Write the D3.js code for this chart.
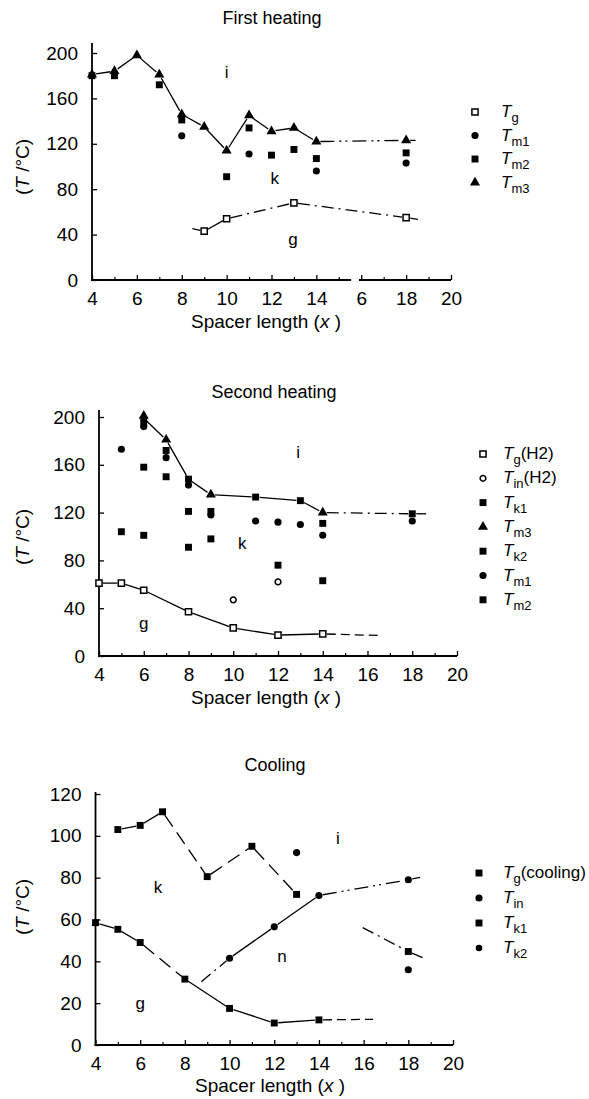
<!DOCTYPE html>
<html><head><meta charset="utf-8">
<script src="https://cdn.jsdelivr.net/npm/d3@7"></script>
<style>
body{margin:0;background:#fff;}
svg{display:block;font-family:"Liberation Sans",Arial,Helvetica,sans-serif;}
</style></head><body>
<svg id="c" width="589" height="1099"></svg>
<script>
// ---------- Panel 1: First heating ----------
const p1_title = "First heating";
const p1_x_ticks = [4,6,8,10,12,14,16,18,20];
const p1_x_tick_labels = ["4","6","8","10","12","14","6","18","20"];
const p1_y_ticks = [0,40,80,120,160,200];
const p1_Tg_x  = [9,10,13,18];
const p1_Tg_y  = [43,54,68,55];
const p1_Tm1_x = [8,11,14,18];
const p1_Tm1_y = [127,111,96,103];
const p1_Tm2_x = [4,5,7,8,10,11,12,13,14,18];
const p1_Tm2_y = [180,180,172,141,91,134,110,115,107,112];
const p1_Tm3_x = [4,5,6,7,8,9,10,11,12,13,14,18];
const p1_Tm3_y = [181,184,198,181,146,135,114,145,131,134,122,123];
// guide lines
const p1_Tm3_line_x = [4,5,6,7,8,9,10,11,12,13,14];
const p1_Tm3_line_y = [181,184,198,181,146,135,114,145,131,134,122];
const p1_Tm3_ext_x = [14,18,18.6];
const p1_Tm3_ext_y = [122,123,123];
const p1_Tg_line_x = [8.3,9,10,13,18,18.7];
const p1_Tg_line_y = [46,43,54,68,55,53];
const p1_legend_subs = ["g","m1","m2","m3"];
const p1_legend_suffix = ["","","",""];
const p1_regions = ["i","k","g"];
const p1_region_x = [10,12.15,12.96];
const p1_region_y = [183,90,36];

// ---------- Panel 2: Second heating ----------
const p2_title = "Second heating";
const p2_x_ticks = [4,6,8,10,12,14,16,18,20];
const p2_x_tick_labels = ["4","6","8","10","12","14","16","18","20"];
const p2_y_ticks = [0,40,80,120,160,200];
const p2_Tg_x  = [4,5,6,8,10,12,14];
const p2_Tg_y  = [61,61,55,37,23.5,17.5,18.5];
const p2_Tin_x = [10,12];
const p2_Tin_y = [47,62];
const p2_Tk1_x = [5,6,8,9,12,14];
const p2_Tk1_y = [104,101,91,98,76,63];
const p2_Tm3_x = [6,7,9,14];
const p2_Tm3_y = [201,181,135,120];
const p2_Tk2_x = [6,7,8,9,14];
const p2_Tk2_y = [158,150,121,121,111];
const p2_Tm1_x = [5,6,7,8,9,11,12,13,14,18];
const p2_Tm1_y = [173,192,166,143,118,113,112,110,101,113];
const p2_Tm2_x = [6,7,8,11,13,18];
const p2_Tm2_y = [196,172,148,133,130,119];
const p2_top_line_x = [6,7,8,9,11,13,14];
const p2_top_line_y = [199,181,148,135,133,130,120];
const p2_top_ext_x = [14,18,18.8];
const p2_top_ext_y = [120,119,119];
const p2_Tg_ext_x = [14,16.8];
const p2_Tg_ext_y = [18.5,17];
const p2_legend_subs = ["g","in","k1","m3","k2","m1","m2"];
const p2_legend_suffix = ["(H2)","(H2)","","","","",""];
const p2_regions = ["i","k","g"];
const p2_region_x = [12.9,10.4,6];
const p2_region_y = [170.7,94.6,27.6];

// ---------- Panel 3: Cooling ----------
const p3_title = "Cooling";
const p3_x_ticks = [4,6,8,10,12,14,16,18,20];
const p3_x_tick_labels = ["4","6","8","10","12","14","16","18","20"];
const p3_y_ticks = [0,20,40,60,80,100,120];
const p3_Tg_x  = [4,5,6,8,10,12,14];
const p3_Tg_y  = [58.5,55.3,49,31.5,17.5,10.5,12];
const p3_Tin_x = [10,12,14,18];
const p3_Tin_y = [41.5,56.5,71.5,79];
const p3_Tk1_x = [5,6,7,9,11,13,18];
const p3_Tk1_y = [103,105,111.5,80.5,95,72,44.7];
const p3_Tk2_x = [13,18];
const p3_Tk2_y = [92,36];
const p3_Tk1_tail_x = [15.8,18,18.8];
const p3_Tk1_tail_y = [57,44.7,41];
const p3_Tin_line_x = [8.6,10,12,14];
const p3_Tin_line_y = [29,41.5,56.5,71.5];
const p3_Tin_ext_x = [14,18,18.7];
const p3_Tin_ext_y = [71.5,79,80.5];
const p3_Tg_ext_x = [14,16.6];
const p3_Tg_ext_y = [12,12.3];
const p3_legend_subs = ["g","in","k1","k2"];
const p3_legend_suffix = ["(cooling)","","",""];
const p3_regions = ["i","k","n","g"];
const p3_region_x = [14.85,6.8,12.35,6];
const p3_region_y = [99,75.5,42.5,20];

// ---------- drawing ----------
const svg = d3.select("#c");
const FONT_TICK = 19, FONT_TITLE = 18, FONT_AX = 19, FONT_LEG = 17;

const DASH = {solid:null, dash:"9,5", longdash:"14,7", dashdot:"12,5,2,5", dashdotdot:"14,5,2,4,2,5"};

function marker(g, type, px, py) {
  const sym = {
    sqOpen: [d3.symbolSquare, 38, "#fff", 1.5],
    sqFill: [d3.symbolSquare, 48, "#000", 0],
    circFill: [d3.symbolCircle, 40, "#000", 0],
    circSmall: [d3.symbolCircle, 34, "#000", 0],
    circOpen: [d3.symbolCircle, 26, "#fff", 1.5],
    tri: [d3.symbolTriangle, 44, "#000", 0]
  }[type];
  g.append("path")
    .attr("d", d3.symbol().type(sym[0]).size(sym[1])())
    .attr("transform", `translate(${px},${py})`)
    .attr("fill", sym[2])
    .attr("stroke", sym[3] ? "#000" : "none")
    .attr("stroke-width", sym[3]);
}

function points(g, x, y, xs, ys, type) {
  xs.forEach((d, i) => marker(g, type, x(d), y(ys[i])));
}

function segs(g, x, y, xs, ys, styles, gap) {
  for (let i = 0; i < xs.length - 1; i++) {
    let x1 = x(xs[i]), y1 = y(ys[i]), x2 = x(xs[i+1]), y2 = y(ys[i+1]);
    const dx = x2 - x1, dy = y2 - y1, L = Math.hypot(dx, dy);
    const ux = dx / L, uy = dy / L;
    const st = Array.isArray(styles) ? styles[i] : styles;
    g.append("line")
      .attr("x1", x1 + ux*gap).attr("y1", y1 + uy*gap)
      .attr("x2", x2 - ux*gap).attr("y2", y2 - uy*gap)
      .attr("stroke", "#000").attr("stroke-width", 1.3)
      .attr("stroke-dasharray", DASH[st]);
  }
}

function frame(cfg) {
  const x = d3.scaleLinear().domain([4,20]).range([cfg.x0, cfg.x1]);
  const y = d3.scaleLinear().domain([0, cfg.ymax]).range([cfg.yb, cfg.yt]);
  const g = svg.append("g");
  g.append("text").attr("x", cfg.titleX).attr("y", cfg.titleY)
    .attr("text-anchor","middle").attr("font-size", FONT_TITLE).text(cfg.title);
  const xa = g.append("g").attr("transform", `translate(0,${cfg.yb})`)
    .call(d3.axisBottom(x).tickValues(cfg.xticks)
      .tickFormat((d,i) => cfg.xlabels[i]).tickSize(-5).tickPadding(12));
  xa.select(".domain").remove();
  xa.selectAll("text").attr("font-size", FONT_TICK).attr("font-family", null);
  xa.selectAll("line").attr("stroke-width", 1.3);
  const xm = g.append("g").attr("transform", `translate(0,${cfg.yb})`)
    .call(d3.axisBottom(x).tickValues(d3.range(5,20,2)).tickFormat("").tickSize(-3));
  xm.select(".domain").remove();
  xm.selectAll("line").attr("stroke-width", 1.2);
  (cfg.breaks || [[4,20]]).forEach(b => {
    g.append("line").attr("x1", x(b[0]) - (b[0]===4?1:0)).attr("x2", x(b[1]))
      .attr("y1", cfg.yb).attr("y2", cfg.yb).attr("stroke","#000").attr("stroke-width",1.8);
  });
  if (cfg.breaks) {
    g.selectAll(".tick").filter(d => d > cfg.breaks[0][1] && d < cfg.breaks[1][0]).remove();
  }
  const ya = g.append("g").attr("transform", `translate(${cfg.x0},0)`)
    .call(d3.axisLeft(y).tickValues(cfg.yticks).tickSize(-5).tickPadding(14));
  ya.select(".domain").remove();
  ya.selectAll("text").attr("font-size", FONT_TICK).attr("font-family", null);
  ya.selectAll("line").attr("stroke-width", 1.3);
  g.append("line").attr("x1", cfg.x0).attr("x2", cfg.x0)
    .attr("y1", cfg.yb + 0.9).attr("y2", cfg.yAxTop).attr("stroke","#000").attr("stroke-width",1.8);
  const xt = g.append("text").attr("x", cfg.xTitleX).attr("y", cfg.yb + cfg.xTitleDy)
    .attr("text-anchor","middle").attr("font-size", FONT_AX);
  xt.append("tspan").text("Spacer length (");
  xt.append("tspan").attr("font-style","italic").text("x");
  xt.append("tspan").text(" )");
  const yt = g.append("text")
    .attr("transform", `translate(${cfg.yTitleX},${cfg.yTitleY}) rotate(-90)`)
    .attr("text-anchor","middle").attr("font-size", FONT_AX);
  yt.append("tspan").text("(");
  yt.append("tspan").attr("font-style","italic").text("T");
  yt.append("tspan").text(" /°C)");
  cfg.regions.forEach((t,i) => {
    g.append("text").attr("x", x(cfg.regX[i])).attr("y", y(cfg.regY[i]))
      .attr("text-anchor","middle").attr("dy","0.35em").attr("font-size", 17).text(t);
  });
  cfg.legSubs.forEach((s,i) => {
    const ly = cfg.legY0 + i*cfg.legDy;
    marker(g, cfg.legTypes[i], cfg.legSymX, ly);
    const t = g.append("text").attr("x", cfg.legTextX).attr("y", ly + 5).attr("font-size", FONT_LEG);
    t.append("tspan").attr("font-style","italic").text("T");
    t.append("tspan").attr("font-size", 13).attr("dy", 5).text(s);
    if (cfg.legSuffix[i]) t.append("tspan").attr("dy", -5).text(cfg.legSuffix[i]);
  });
  return {g, x, y};
}

// Panel 1
{
  const {g, x, y} = frame({
    title: p1_title, titleX: 272, titleY: 24,
    x0: 92, x1: 451, yb: 280, yt: 53, ymax: 200, yAxTop: 43,
    xticks: p1_x_ticks, xlabels: p1_x_tick_labels, yticks: p1_y_ticks,
    breaks: [[4,15.55],[15.9,20]],
    xTitleX: 266, xTitleDy: 48, yTitleX: 29, yTitleY: 167,
    regions: p1_regions, regX: p1_region_x, regY: p1_region_y,
    legSubs: p1_legend_subs, legSuffix: p1_legend_suffix,
    legTypes: ["sqOpen","circFill","sqFill","tri"],
    legSymX: 475, legTextX: 501, legY0: 112, legDy: 23.5
  });
  segs(g, x, y, p1_Tm3_line_x, p1_Tm3_line_y, "solid", 4);
  segs(g, x, y, p1_Tm3_ext_x, p1_Tm3_ext_y, ["dashdotdot","solid"], 4);
  segs(g, x, y, p1_Tg_line_x, p1_Tg_line_y, ["solid","solid","dashdot","dashdot","solid"], 4);
  points(g, x, y, p1_Tm1_x, p1_Tm1_y, "circFill");
  points(g, x, y, p1_Tm2_x, p1_Tm2_y, "sqFill");
  points(g, x, y, p1_Tm3_x, p1_Tm3_y, "tri");
  points(g, x, y, p1_Tg_x, p1_Tg_y, "sqOpen");
}

// Panel 2
{
  const {g, x, y} = frame({
    title: p2_title, titleX: 274, titleY: 398,
    x0: 99, x1: 457, yb: 656, yt: 417, ymax: 200, yAxTop: 410,
    xticks: p2_x_ticks, xlabels: p2_x_tick_labels, yticks: p2_y_ticks,
    xTitleX: 266, xTitleDy: 48, yTitleX: 29, yTitleY: 537,
    regions: p2_regions, regX: p2_region_x, regY: p2_region_y,
    legSubs: p2_legend_subs, legSuffix: p2_legend_suffix,
    legTypes: ["sqOpen","circOpen","sqFill","tri","sqFill","circFill","sqFill"],
    legSymX: 483, legTextX: 503, legY0: 454, legDy: 24.3
  });
  segs(g, x, y, p2_top_line_x, p2_top_line_y, "solid", 4);
  segs(g, x, y, p2_top_ext_x, p2_top_ext_y, ["dashdot","solid"], 4);
  segs(g, x, y, p2_Tg_x, p2_Tg_y, "solid", 4);
  segs(g, x, y, p2_Tg_ext_x, p2_Tg_ext_y, "dash", 4);
  points(g, x, y, p2_Tk1_x, p2_Tk1_y, "sqFill");
  points(g, x, y, p2_Tk2_x, p2_Tk2_y, "sqFill");
  points(g, x, y, p2_Tm2_x, p2_Tm2_y, "sqFill");
  points(g, x, y, p2_Tm1_x, p2_Tm1_y, "circFill");
  points(g, x, y, p2_Tm3_x, p2_Tm3_y, "tri");
  points(g, x, y, p2_Tin_x, p2_Tin_y, "circOpen");
  points(g, x, y, p2_Tg_x, p2_Tg_y, "sqOpen");
}

// Panel 3
{
  const {g, x, y} = frame({
    title: p3_title, titleX: 275, titleY: 771,
    x0: 95.5, x1: 453, yb: 1045, yt: 794, ymax: 120, yAxTop: 792,
    xticks: p3_x_ticks, xlabels: p3_x_tick_labels, yticks: p3_y_ticks,
    xTitleX: 270, xTitleDy: 47, yTitleX: 29, yTitleY: 907,
    regions: p3_regions, regX: p3_region_x, regY: p3_region_y,
    legSubs: p3_legend_subs, legSuffix: p3_legend_suffix,
    legTypes: ["sqFill","circFill","sqFill","circSmall"],
    legSymX: 479, legTextX: 503, legY0: 873, legDy: 25
  });
  segs(g, x, y, p3_Tk1_x.slice(0,6), p3_Tk1_y.slice(0,6), ["solid","solid","longdash","longdash","longdash"], 4);
  segs(g, x, y, p3_Tk1_tail_x, p3_Tk1_tail_y, ["dashdot","solid"], 4);
  segs(g, x, y, p3_Tin_line_x, p3_Tin_line_y, ["dashdot","solid","solid"], 4);
  segs(g, x, y, p3_Tin_ext_x, p3_Tin_ext_y, ["dashdotdot","solid"], 4);
  segs(g, x, y, p3_Tg_x, p3_Tg_y, ["solid","solid","longdash","solid","solid","solid"], 4);
  segs(g, x, y, p3_Tg_ext_x, p3_Tg_ext_y, "dash", 4);
  points(g, x, y, p3_Tg_x, p3_Tg_y, "sqFill");
  points(g, x, y, p3_Tk1_x, p3_Tk1_y, "sqFill");
  points(g, x, y, p3_Tin_x, p3_Tin_y, "circFill");
  points(g, x, y, p3_Tk2_x, p3_Tk2_y, "circFill");
}
</script>
</body></html>
